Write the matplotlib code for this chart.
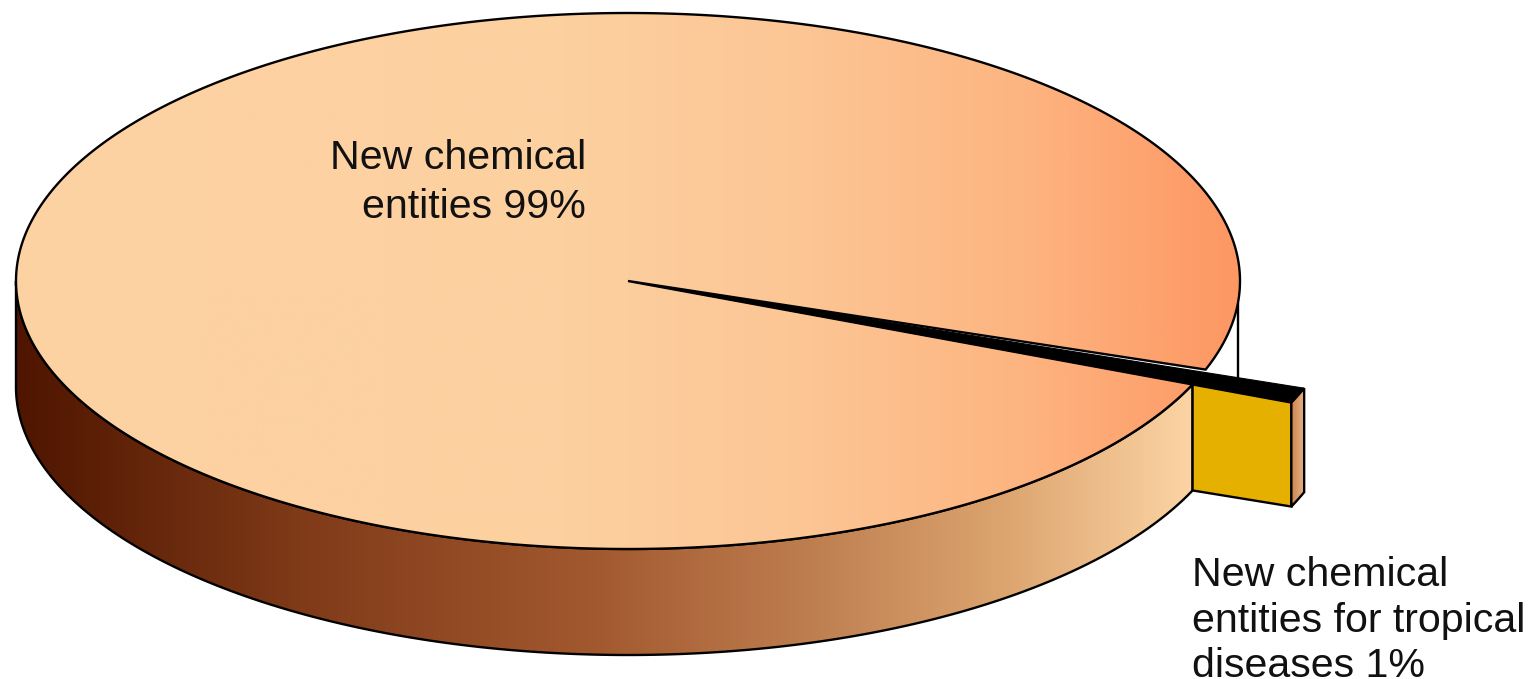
import numpy as np
import matplotlib
matplotlib.use("Agg")
import matplotlib.pyplot as plt
from matplotlib.colors import LinearSegmentedColormap
from matplotlib.patches import Polygon

plt.rcParams['font.family'] = ['Liberation Sans', 'DejaVu Sans']

labels = ["New chemical\nentities 99%", "New chemical\nentities for tropical\ndiseases 1%"]
shares = [99, 1]

# pie geometry in pixels
cx, cy = 628, 281
rx, ry = 612, 268
depth = 106
slice_depth = 104
explode = 1.175
slice_start = 19.9
gap = 0.6
slice_sweep = shares[1] * 3.6 * 0.78  # foreshortened by the tilt
slice_end = slice_start + slice_sweep

top_cmap = LinearSegmentedColormap.from_list("top", [
    (0.0, "#fdd3a4"), (0.45, "#fdd0a0"), (0.65, "#fcc594"),
    (0.82, "#fdb581"), (1.0, "#fd9763")])
wall_cmap = LinearSegmentedColormap.from_list("wall", [
    (0.0, "#4f1500"), (0.24, "#7f3a18"), (0.5, "#a45a30"),
    (0.67, "#bd7d4f"), (0.84, "#dca46f"), (1.0, "#fcd4a4")])
edge_cmap = LinearSegmentedColormap.from_list("edge", ["#c8854f", "#e9b183"])


def rim(a0, a1, r=1.0, dy=0.0, n=300):
    t = np.radians(np.linspace(a0, a1, n))
    return np.column_stack([cx + r * rx * np.cos(t), cy + r * ry * np.sin(t) + dy])


def point(a, r=1.0, dy=0.0):
    return rim(a, a, r, dy, 1)[0]


def gradient_fill(ax, verts, cmap, zorder):
    x0, x1 = verts[:, 0].min(), verts[:, 0].max()
    y0, y1 = verts[:, 1].min(), verts[:, 1].max()
    patch = Polygon(verts, closed=True, fc="none", ec="none", transform=ax.transData)
    ax.add_patch(patch)
    im = ax.imshow(np.linspace(0, 1, 512).reshape(1, -1), cmap=cmap, aspect="auto",
                   extent=[x0, x1, y1, y0], zorder=zorder, interpolation="bilinear")
    im.set_clip_path(patch)


fig = plt.figure(figsize=(15.33, 6.79), dpi=100)
ax = fig.add_axes([0, 0, 1, 1])
lw = 1.7

# wall of the big slice, front half only
wall_top = rim(slice_end, 180)
wall_bottom = rim(180, slice_end, dy=depth)
wall = np.vstack([wall_top, wall_bottom])
gradient_fill(ax, wall, wall_cmap, 1)
ax.add_patch(Polygon(wall, closed=True, fc="none", ec="black", lw=lw, zorder=2))

# far right silhouette of the cylinder, seen behind the pulled-out slice
back = np.array([point(5), point(5, dy=depth)])
ax.plot(back[:, 0], back[:, 1], color="black", lw=lw, zorder=1)

# top face of the big slice
pie_a0 = slice_end
pie_a1 = slice_start - gap + 360
top = np.vstack([[cx, cy], rim(pie_a0, pie_a1, n=800)])
gradient_fill(ax, top, top_cmap, 3)
ax.add_patch(Polygon(top, closed=True, fc="none", ec="black", lw=lw, zorder=4))

# pulled-out slice: cut face, outer face, then black top
cut = np.array([point(slice_end), point(slice_end, explode),
                point(slice_end, explode, slice_depth), point(slice_end, dy=depth)])
ax.add_patch(Polygon(cut, closed=True, fc="#e5b000", ec="black", lw=lw, zorder=5))

outer = np.vstack([rim(slice_end, slice_start, explode, n=20),
                   rim(slice_start, slice_end, explode, slice_depth, n=20)])
gradient_fill(ax, outer, edge_cmap, 5)
ax.add_patch(Polygon(outer, closed=True, fc="none", ec="black", lw=lw, zorder=6))

wedge = np.vstack([[cx, cy], rim(slice_start, slice_end, explode, n=20)])
ax.add_patch(Polygon(wedge, closed=True, fc="black", ec="black", lw=0.8, zorder=7))

ax.text(586, 218, labels[0], ha="right", va="baseline", fontsize=29.6,
        linespacing=1.38, color="#111111", zorder=8)
ax.text(1192, 677, labels[1], ha="left", va="baseline", fontsize=29.6,
        linespacing=1.25, color="#111111", zorder=8)

ax.set_xlim(0, 1533)
ax.set_ylim(679, 0)
ax.axis("off")
fig.savefig("out.png", dpi=100, facecolor="white")
